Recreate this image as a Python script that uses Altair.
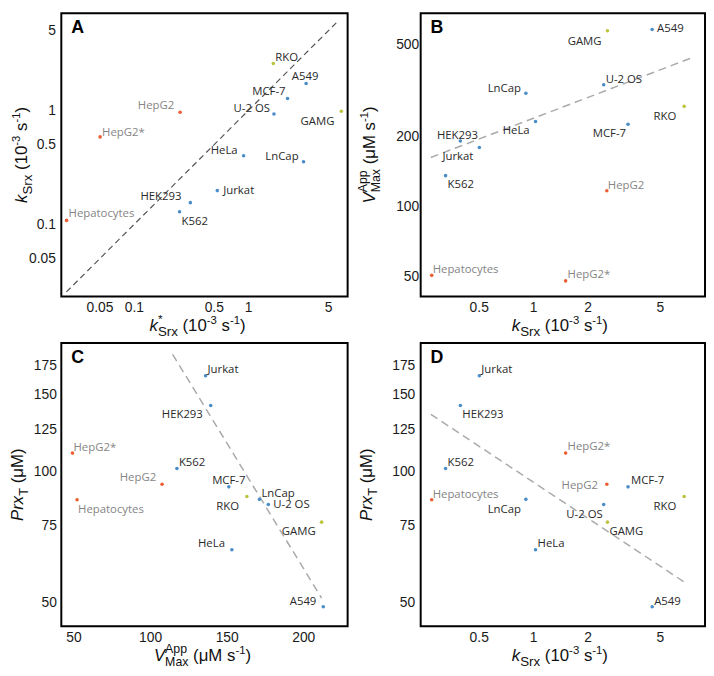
import altair as alt
import pandas as pd

# ---------------- data ----------------
names = ["A549", "MCF-7", "U-2 OS", "HeLa", "LnCap", "Jurkat", "HEK293", "K562",
         "RKO", "GAMG", "HepG2", "HepG2*", "Hepatocytes"]
groups = ["blue"] * 8 + ["green"] * 2 + ["orange"] * 3

# Panel A
ksrx_star_A = [3.21, 2.21, 1.68, 0.912, 3.05, 0.537, 0.312, 0.251, 1.66, 6.53, 0.254, 0.0507, 0.0258]
ksrx_A = [1.73, 1.28, 0.936, 0.403, 0.357, 0.199, 0.156, 0.130, 2.59, 0.99, 0.97, 0.589, 0.109]
# Panels B and D (x)
ksrx = [4.54, 3.34, 2.45, 1.03, 0.911, 0.504, 0.396, 0.328, 6.82, 2.57, 2.55, 1.51, 0.275]
# Panel B (y)
vmax_B = [583, 227, 336, 233, 309, 180, 192, 136, 271, 575, 117, 47.7, 50.4]
# Panel C (x)
vmax_C = [213.1, 151.4, 177.2, 153.4, 171.4, 136.2, 139.6, 117.5, 163.2, 212.0, 107.8, 49.3, 52.3]
# Panels C and D (y)
prx = [48.9, 92.2, 84.0, 66.1, 86.3, 165.9, 141.7, 101.6, 87.6, 76.5, 93.5, 110.2, 86.1]

# dashed trend lines (end points)
fitA_x = [0.0257, 6.15]
fitA_y = [0.0257, 6.15]
fitB_x = [0.272, 7.42]
fitB_y = [163, 438]
fitC_x = [114.7, 212.0]
fitC_y = [185.8, 51.2]
fitD_x = [0.272, 6.84]
fitD_y = [135.3, 55.7]

# tick values
ticksA = [0.05, 0.1, 0.5, 1, 5]
ticksK = [0.5, 1, 2, 5]
ticksV = [50, 100, 200, 500]
ticksVc = [50, 100, 150, 200]
ticksP = [50, 75, 100, 125, 150, 175]

# ---------------- styles ----------------
COLORS = {"blue": "#4a8cc8", "green": "#bcc43e", "orange": "#ec5d32"}
LABEL_DARK = "#2a2a2a"
LABEL_GRAY = "#858585"
LABEL_FONT = "Open Sans"
LABEL_SIZE = 11.5
W_L, W_R, H = 290, 288, 287

# per-label placement: (align, dx, dy)
offA = {"RKO": ("left", 2, -6), "A549": ("center", -1, -7), "MCF-7": ("right", -2, -6),
        "U-2 OS": ("right", -4, -5), "GAMG": ("right", -7, 11), "HepG2": ("right", -6, -6),
        "HepG2*": ("left", 2, -4), "HeLa": ("right", -6, -5), "LnCap": ("right", -5, -5),
        "Jurkat": ("left", 6, 0), "HEK293": ("right", -9, -6), "K562": ("left", 2, 10),
        "Hepatocytes": ("left", 2, -6)}
offB = {"GAMG": ("right", -6, 11), "A549": ("left", 5, 0), "U-2 OS": ("left", 2, -5),
        "LnCap": ("right", -5, -4), "RKO": ("right", -8, 11), "HeLa": ("right", -6, 10),
        "MCF-7": ("right", -2, 10), "HEK293": ("center", -3, -5), "Jurkat": ("right", -6, 10),
        "K562": ("left", 2, 10), "HepG2": ("left", 1, -5), "Hepatocytes": ("left", 1, -5),
        "HepG2*": ("left", 2, -6)}
offC = {"Jurkat": ("left", 2, -6), "HEK293": ("right", -8, 10), "HepG2*": ("left", 1, -5),
        "K562": ("left", 2, -6), "HepG2": ("right", -6, -6), "MCF-7": ("center", 0, -6),
        "RKO": ("right", -8, 11), "LnCap": ("left", 2, -5), "U-2 OS": ("left", 5, 1),
        "Hepatocytes": ("left", 1, 10), "GAMG": ("right", -6, 10), "HeLa": ("right", -7, -6),
        "A549": ("right", -7, -5)}
offD = {"Jurkat": ("left", 2, -6), "HEK293": ("left", 2, 10), "K562": ("left", 2, -6),
        "Hepatocytes": ("left", 1, -5), "LnCap": ("right", -5, 11), "HepG2*": ("left", 2, -6),
        "HepG2": ("right", -9, 2), "MCF-7": ("left", 3, -6), "RKO": ("right", -8, 11),
        "U-2 OS": ("right", -1, 11), "GAMG": ("left", 2, 10), "HeLa": ("left", 2, -6),
        "A549": ("left", 2, -5)}

# Arial / Liberation Sans advance widths (1/1000 em)
AW = {" ": 278, "(": 333, ")": 333, "-": 333, "*": 389, "k": 500, "S": 667, "r": 333,
      "x": 500, "s": 500, "V": 667, "A": 667, "p": 556, "M": 833, "a": 556, "μ": 576,
      "P": 667, "T": 611}


def tw(s, size):
    return sum(AW.get(c, 556) for c in s) / 1000.0 * size


MAIN, SUB, SUP = 17, 13.5, 11.5
T_KSRX_STAR = [("k", MAIN, "italic", 0), [("*", 12, "normal", -8), ("Srx", SUB, "normal", 5)],
               (" (10", MAIN, "normal", 0), ("-3", SUP, "normal", -7), (" s", MAIN, "normal", 0),
               ("-1", SUP, "normal", -7), (")", MAIN, "normal", 0)]
T_KSRX = [("k", MAIN, "italic", 0), ("Srx", SUB, "normal", 5),
          (" (10", MAIN, "normal", 0), ("-3", SUP, "normal", -7), (" s", MAIN, "normal", 0),
          ("-1", SUP, "normal", -7), (")", MAIN, "normal", 0)]
T_VMAX = [("V", MAIN, "italic", 0), [("App", 12.5, "normal", -8), ("Max", 12.5, "normal", 5)],
          (" (μM s", MAIN, "normal", 0), ("-1", SUP, "normal", -7), (")", MAIN, "normal", 0)]
T_PRX = [("Prx", MAIN, "italic", 0), ("T", 13, "normal", 5), (" (μM)", MAIN, "normal", 0)]


def composed_title(segments, x, y, angle=0):
    items = []
    pos = 0.0
    for seg in segments:
        group = seg if isinstance(seg, list) else [seg]
        adv = 0.0
        for (t, size, style, shift) in group:
            stripped = t.lstrip(" ")
            lead = tw(t[: len(t) - len(stripped)], size)
            items.append((stripped, size, style, shift, pos + lead))
            adv = max(adv, tw(t, size))
        pos += adv
    start = -pos / 2.0
    layers = []
    one = pd.DataFrame({"k": [0]})
    for (t, size, style, shift, p) in items:
        kw = dict(text=t, font="Liberation Sans", fontSize=size, fontStyle=style,
                  align="left", baseline="alphabetic", dx=start + p, dy=shift, color="#111111")
        if angle:
            kw["angle"] = angle
        layers.append(alt.Chart(one).mark_text(**kw).encode(x=alt.value(x), y=alt.value(y)))
    return layers


def panel(xs, ys, xscale, yscale, xticks, yticks, xfmt, fx, fy, offsets, letter,
          xtitle, ytitle, width, ytitle_x, ylabpad, xtitle_shift, line_color, dash, line_w):
    df = pd.DataFrame({"name": names, "group": groups, "x": xs, "y": ys})
    X = alt.X("x:Q", scale=xscale,
              axis=alt.Axis(values=xticks, format=xfmt, title=None, labelPadding=4))
    Y = alt.Y("y:Q", scale=yscale,
              axis=alt.Axis(values=yticks, format="~g", title=None, labelPadding=ylabpad))
    fit = pd.DataFrame({"x": fx, "y": fy})
    line = alt.Chart(fit).mark_line(color=line_color, strokeDash=dash, strokeWidth=line_w).encode(x=X, y=Y)
    pts = alt.Chart(df).mark_circle(size=13, opacity=1).encode(
        x=X, y=Y,
        color=alt.Color("group:N", scale=alt.Scale(domain=list(COLORS.keys()),
                                                   range=list(COLORS.values())), legend=None))
    layers = [line, pts]
    for nm, grp in zip(names, groups):
        al, dx, dy = offsets[nm]
        col = LABEL_GRAY if grp == "orange" else LABEL_DARK
        layers.append(
            alt.Chart(df).transform_filter(alt.datum.name == nm).mark_text(
                align=al, baseline="middle", dx=dx, dy=dy, font=LABEL_FONT,
                fontSize=LABEL_SIZE, color=col).encode(x=X, y=Y, text="name:N"))
    one = pd.DataFrame({"k": [0]})
    layers.append(alt.Chart(one).mark_text(
        text=letter, font="Liberation Sans", fontSize=18, fontWeight="bold",
        align="left", baseline="alphabetic", color="#000000").encode(
        x=alt.value(10), y=alt.value(20)))
    layers += composed_title(xtitle, width / 2 + xtitle_shift, H + 35)
    layers += composed_title(ytitle, ytitle_x, H / 2, angle=270)
    return alt.layer(*layers).properties(width=width, height=H)


logA_x = alt.Scale(type="log", domain=[0.0232, 7.41], nice=False)
logA_y = alt.Scale(type="log", domain=[0.0234, 7.16], nice=False)
logK = alt.Scale(type="log", domain=[0.239, 8.89], nice=False)
logV = alt.Scale(type="log", domain=[40.8, 685], nice=False)
linVc = alt.Scale(type="linear", domain=[42.0, 229.0], nice=False, zero=False)
logP = alt.Scale(type="log", domain=[44.1, 197.3], nice=False)

A = panel(ksrx_star_A, ksrx_A, logA_x, logA_y, ticksA, ticksA, "~g", fitA_x, fitA_y, offA, "A",
          T_KSRX_STAR, T_KSRX, W_L, -35, 6, -7, "#555555", [6, 4], 1.2)
B = panel(ksrx, vmax_B, logK, logV, ticksK, ticksV, "~g", fitB_x, fitB_y, offB, "B",
          T_KSRX, T_VMAX, W_R, -46, 2, -3, "#aaaaaa", [8, 5], 1.5)
C = panel(vmax_C, prx, linVc, logP, ticksVc, ticksP, "d", fitC_x, fitC_y, offC, "C",
          T_VMAX, T_PRX, W_L, -39, 5, -2, "#aaaaaa", [8, 5], 1.5)
D = panel(ksrx, prx, logK, logP, ticksK, ticksP, "~g", fitD_x, fitD_y, offD, "D",
          T_KSRX, T_PRX, W_R, -49, 6, -3, "#aaaaaa", [8, 5], 1.5)

chart = alt.concat(A, B, C, D, columns=2, spacing={"row": 47, "column": 74},
                   bounds="flush").properties(
    padding=0, background="white"
).configure_view(
    stroke="black", strokeWidth=2
).configure_axis(
    domain=False, ticks=False, grid=False, labelFont="Liberation Sans",
    labelFontSize=14, labelColor="#1a1a1a"
)

chart.save("out.html", embed_options={"renderer": "svg", "actions": False})
